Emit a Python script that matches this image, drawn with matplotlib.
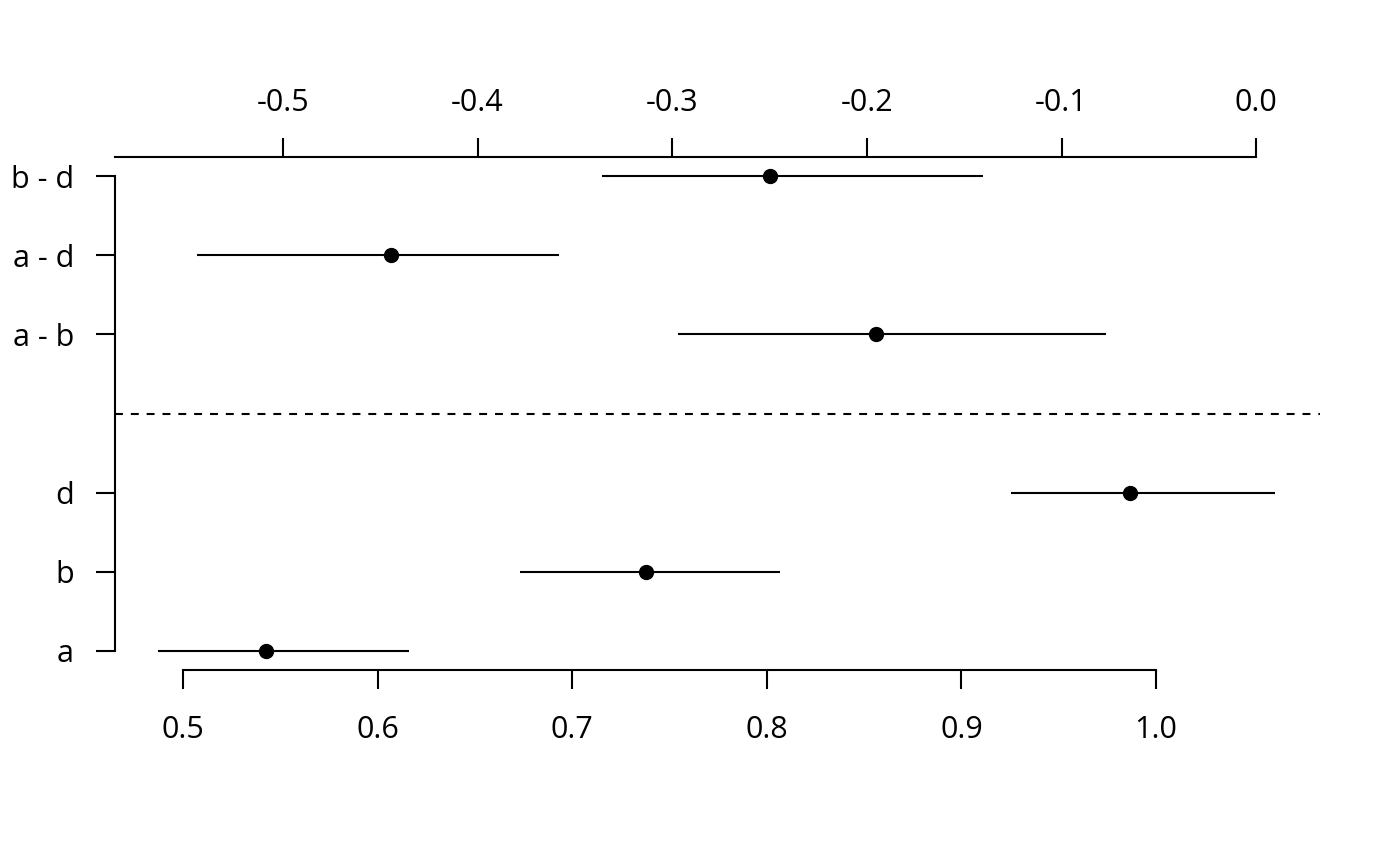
import matplotlib
matplotlib.use("Agg")
import matplotlib.pyplot as plt

plt.rcParams['font.family'] = ['Open Sans', 'DejaVu Sans']

# Individual means (bottom axis)
labels = ["a", "b", "d", "a - b", "a - d", "b - d"]
means = [0.5427, 0.7379, 0.9866]
lowers = [0.4872, 0.6732, 0.9255]
uppers = [0.6161, 0.8068, 1.0611]

# Differences (top axis)
diff_means = [-0.1952, -0.4444, -0.2497]
diff_lowers = [-0.2971, -0.5443, -0.3363]
diff_uppers = [-0.0772, -0.3584, -0.1401]

bottom_ticks = [0.5, 0.6, 0.7, 0.8, 0.9, 1.0]
top_ticks = [-0.5, -0.4, -0.3, -0.2, -0.1, 0.0]
offset = 1.0514  # top value + offset = bottom position

fig = plt.figure(figsize=(14, 8.66), dpi=100)
ax = fig.add_axes([115/1400, 1 - 670/866, (1320-115)/1400, (670-157)/866])
xlim = (0.4651, 1.0842)
ax.set_xlim(*xlim)
ax.set_ylim(0.76, 7.24)

ypos_single = [1, 2, 3]
ypos_diff = [5, 6, 7]

for y, m, lo, hi in zip(ypos_single, means, lowers, uppers):
    ax.plot([lo, hi], [y, y], color='black', lw=1.5, solid_capstyle='butt')
    ax.plot(m, y, 'o', color='black', ms=10)

ax2 = ax.twiny()
ax2.set_xlim(xlim[0] - offset, xlim[1] - offset)
for y, m, lo, hi in zip(ypos_diff, diff_means, diff_lowers, diff_uppers):
    ax2.plot([lo, hi], [y, y], color='black', lw=1.5, solid_capstyle='butt')
    ax2.plot(m, y, 'o', color='black', ms=10)

ax.axhline(4, color='black', lw=1.5, ls=(0, (3.8, 3.8)))

for s in ['top', 'right']:
    ax.spines[s].set_visible(False)
for s in ['bottom', 'left', 'right']:
    ax2.spines[s].set_visible(False)
for s in ['bottom', 'left', 'top']:
    ax.spines[s].set_linewidth(1.5)
ax2.spines['top'].set_linewidth(1.5)

ax.spines['bottom'].set_bounds(0.5, 1.0)
ax.spines['left'].set_bounds(1, 7)
ax2.spines['top'].set_bounds(xlim[0] - offset, 0.0)

ax.set_xticks(bottom_ticks)
ax.set_xticklabels([f"{t:.1f}" for t in bottom_ticks])
ax.set_yticks(ypos_single + ypos_diff)
ax.set_yticklabels(labels)
ax2.set_xticks(top_ticks)
ax2.set_xticklabels([f"{t:.1f}" for t in top_ticks])

ax.tick_params(axis='x', direction='out', length=13.5, width=1.5, labelsize=22, pad=19)
ax.tick_params(axis='y', direction='out', length=14, width=1.5, labelsize=22, pad=15.5)
ax2.tick_params(axis='x', direction='out', length=13.5, width=1.5, labelsize=22, pad=14.5)

fig.savefig("out.png", dpi=100)
